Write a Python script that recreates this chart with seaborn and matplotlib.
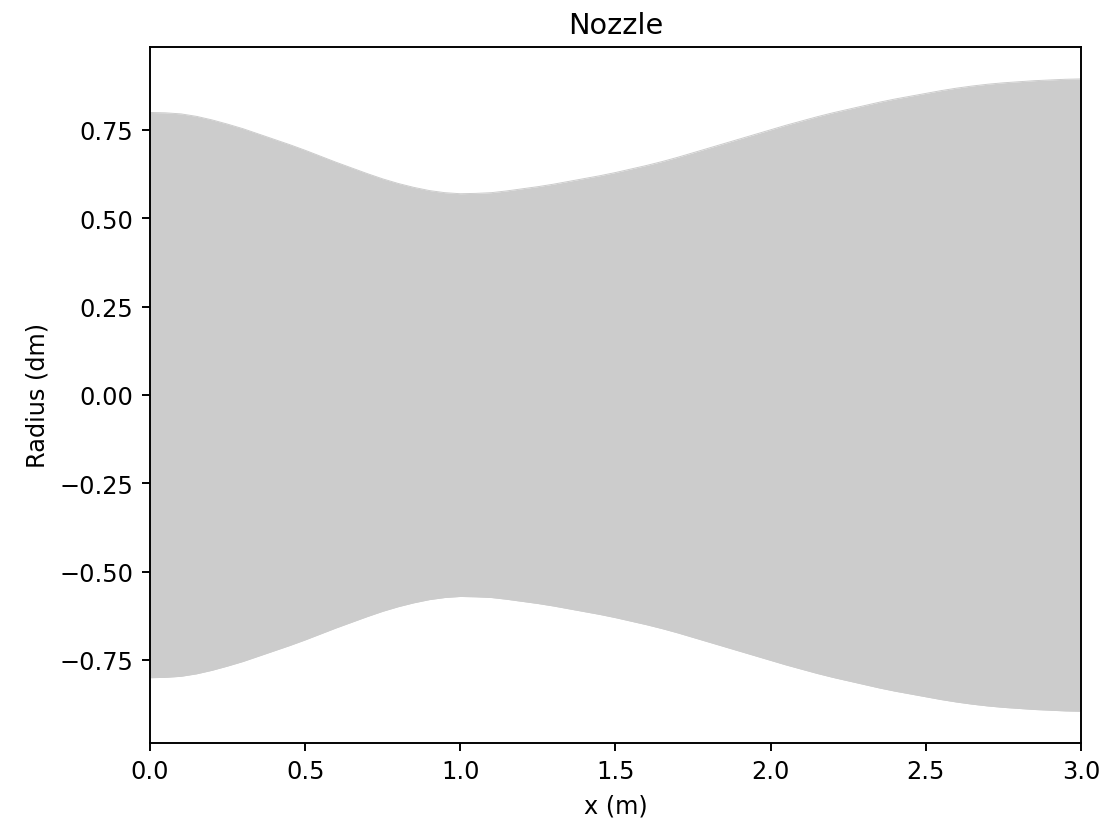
import matplotlib
matplotlib.use("Agg")
import matplotlib.pyplot as plt
import pandas as pd
import seaborn as sns

# nozzle wall profile (radius is symmetric about 0)
x_m = [0.00, 0.05, 0.10, 0.15, 0.20, 0.25, 0.30, 0.35, 0.40, 0.45, 0.50,
       0.55, 0.60, 0.65, 0.70, 0.75, 0.80, 0.85, 0.90, 0.95, 1.00,
       1.05, 1.10, 1.15, 1.20, 1.25, 1.30, 1.35, 1.40, 1.45, 1.50,
       1.55, 1.60, 1.65, 1.70, 1.75, 1.80, 1.85, 1.90, 1.95, 2.00,
       2.05, 2.10, 2.15, 2.20, 2.25, 2.30, 2.35, 2.40, 2.45, 2.50,
       2.55, 2.60, 2.65, 2.70, 2.75, 2.80, 2.85, 2.90, 2.95, 3.00]
radius_dm = [0.800, 0.799, 0.796, 0.789, 0.779, 0.767, 0.754, 0.739, 0.724, 0.709, 0.693,
             0.676, 0.659, 0.643, 0.627, 0.612, 0.599, 0.588, 0.579, 0.573, 0.570,
             0.571, 0.573, 0.578, 0.584, 0.590, 0.597, 0.605, 0.613, 0.621, 0.630,
             0.640, 0.650, 0.661, 0.673, 0.686, 0.699, 0.712, 0.725, 0.738, 0.751,
             0.764, 0.776, 0.788, 0.799, 0.809, 0.819, 0.829, 0.838, 0.846, 0.854,
             0.862, 0.869, 0.875, 0.880, 0.884, 0.887, 0.890, 0.892, 0.894, 0.895]

df = pd.DataFrame({"x": x_m, "upper": radius_dm, "lower": [-r for r in radius_dm]})

fig, ax = plt.subplots(figsize=(6.4, 4.8), dpi=172.66)
fig.subplots_adjust(left=0.1357, right=0.9783, top=0.942, bottom=0.1027)

sns.lineplot(data=df, x="x", y="upper", color="#cccccc", linewidth=0.4, ax=ax)
sns.lineplot(data=df, x="x", y="lower", color="#cccccc", linewidth=0.4, ax=ax)
ax.fill_between(df["x"], df["lower"], df["upper"], color="#cccccc", linewidth=0)

ax.set_xlim(0, 3.0)
ax.set_xlabel("x (m)")
ax.set_ylabel("Radius (dm)")
ax.set_title("Nozzle")

fig.savefig("out.png", dpi=172.66)
